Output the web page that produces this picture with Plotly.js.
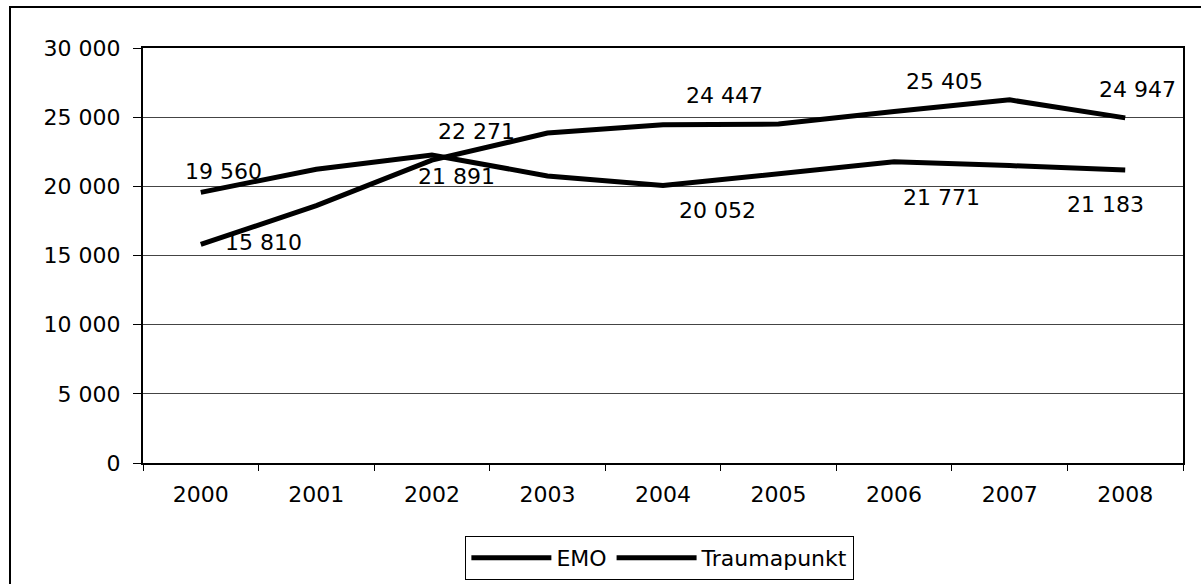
<!DOCTYPE html>
<html>
<head>
<meta charset="utf-8">
<script src="https://cdn.plot.ly/plotly-3.0.1.min.js"></script>
<style>
  html, body { margin: 0; padding: 0; background: #fff; }
  #chart { width: 1201px; height: 584px; }
</style>
</head>
<body>
<div id="chart"></div>
<script>
// ---- data ----
const years = ['2000', '2001', '2002', '2003', '2004', '2005', '2006', '2007', '2008'];
const emo = [19560, 21240, 22271, 20750, 20052, 20950, 21771, 21500, 21183];
const traumapunkt = [15810, 18600, 21891, 23850, 24447, 24500, 25405, 26250, 24947];
const seriesNames = ['EMO', 'Traumapunkt'];
const labelIndices = [0, 2, 4, 6, 8];
const yTickVals = [0, 5000, 10000, 15000, 20000, 25000, 30000];

// ---- label offsets (screen pixels, dx right, dy down) ----
const emoOffsets = [[23, -21], [45, -23], [54, 25], [47, 36], [-20, 35]];
const traumaOffsets = [[63, -2], [25, 16], [61, -29], [50, -30], [12, -28]];

function fmt(v) {
  return String(v).replace(/\B(?=(\d{3})+(?!\d))/g, ' ');
}

const FONT = 'DejaVu Sans, Arial, sans-serif';
const FS = 22;
const lineStyle = { color: '#000', width: 5 };

const traces = [
  { type: 'scatter', mode: 'lines', name: seriesNames[0], x: years, y: emo, line: lineStyle },
  { type: 'scatter', mode: 'lines', name: seriesNames[1], x: years, y: traumapunkt, line: lineStyle }
];

const annotations = [];
function addLabels(values, offsets) {
  labelIndices.forEach((idx, k) => {
    annotations.push({
      x: idx, y: values[idx], xref: 'x', yref: 'y',   // category index on the category axis
      text: fmt(values[idx]), showarrow: false,
      xshift: offsets[k][0], yshift: -offsets[k][1],
      font: { family: FONT, size: FS, color: '#000' }
    });
  });
}
addLabels(emo, emoOffsets);
addLabels(traumapunkt, traumaOffsets);

// plot area geometry in pixels
const W = 1201, H = 584;
const mL = 143, mR = 18, mT = 48, mB = 121;
const pw = W - mL - mR, ph = H - mT - mB;
function px2paperX(px) { return (px - mL) / pw; }
function px2paperY(py) { return (H - mB - py) / ph; }

const layout = {
  width: W, height: H,
  margin: { l: mL, r: mR, t: mT, b: mB, pad: 0, autoexpand: false },
  paper_bgcolor: '#fff', plot_bgcolor: '#fff',
  separators: ', ',
  font: { family: FONT, size: FS, color: '#000' },
  showlegend: true,
  legend: {
    orientation: 'h', x: 0.497, xanchor: 'center', y: px2paperY(536), yanchor: 'top',
    bordercolor: '#000', borderwidth: 1, bgcolor: '#fff',
    font: { family: FONT, size: FS, color: '#000' },
    itemwidth: 80, tracegroupgap: 0
  },
  xaxis: {
    type: 'category',
    categoryarray: years, categoryorder: 'array',
    range: [-0.5, years.length - 0.5], autorange: false,
    showline: true, linecolor: '#000', linewidth: 2, mirror: true,
    ticks: 'outside', ticklen: 6, tickcolor: '#000', tickwidth: 1,
    tickson: 'boundaries', tickangle: 0,
    showgrid: false, zeroline: false,
    tickfont: { family: FONT, size: FS, color: '#000' },
    ticklabelstandoff: 11
  },
  yaxis: {
    range: [0, 30000], autorange: false,
    tickvals: yTickVals,
    tickformat: ',d',
    showline: true, linecolor: '#000', linewidth: 2, mirror: true,
    ticks: 'outside', ticklen: 8, tickcolor: '#000', tickwidth: 1,
    showgrid: true, gridcolor: '#444', gridwidth: 1,
    zeroline: false,
    tickfont: { family: FONT, size: FS, color: '#000' },
    ticklabelstandoff: 8
  },
  annotations: annotations,
  shapes: [
    {
      type: 'rect', xref: 'paper', yref: 'paper',
      x0: px2paperX(10), x1: px2paperX(1215),
      y0: px2paperY(600), y1: px2paperY(7),
      line: { color: '#000', width: 2 }, fillcolor: 'rgba(0,0,0,0)', layer: 'above'
    }
  ]
};

Plotly.newPlot('chart', traces, layout, { staticPlot: true, displayModeBar: false });
</script>
</body>
</html>
